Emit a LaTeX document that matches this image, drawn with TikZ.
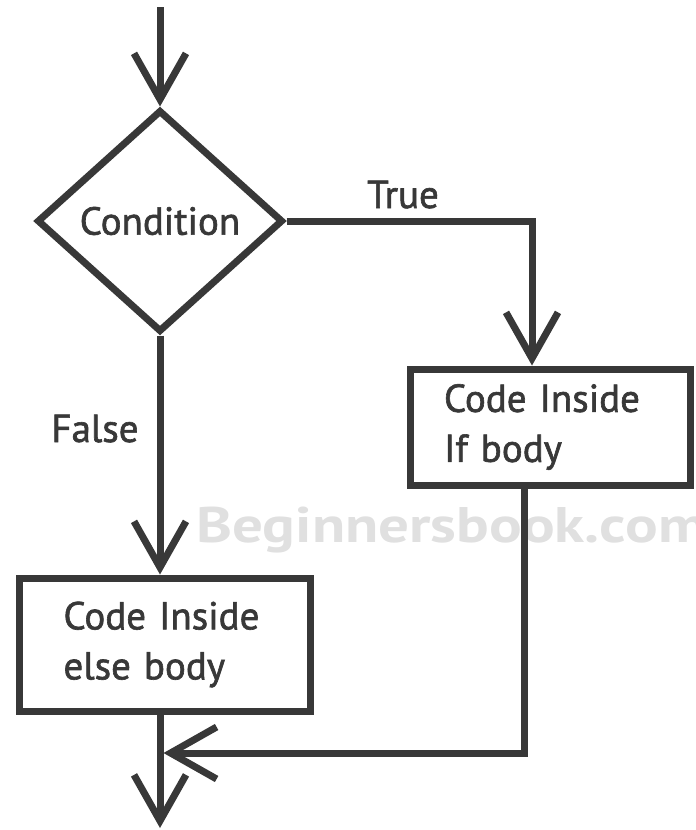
\documentclass[tikz,border=0pt]{standalone}
\usepackage{fontspec}
\setmainfont{PT Sans}
\newfontfamily\labelfont{PT Sans}[FakeBold=1.6]
\newfontfamily\markfont{PT Sans Bold}
\usetikzlibrary{shapes.geometric,arrows.meta}
\definecolor{ink}{HTML}{383838}
\definecolor{mark}{HTML}{E0E0E0}
\tikzset{
  flow/.style={draw=ink, line width=7pt, -{Straight Barb[length=46pt,width=52pt]}},
  decision/.style={diamond, draw=ink, line width=7pt, minimum width=246pt,
    minimum height=222pt, inner sep=0pt, aspect=1.1},
  block/.style={rectangle, draw=ink, line width=7pt, align=left, inner sep=0pt},
  txt/.style={text=ink, font=\labelfont\fontsize{39}{50}\selectfont},
}
\begin{document}
\begin{tikzpicture}[x=1pt,y=-1pt]
  \useasboundingbox (0,0) rectangle (696,830);
  \clip (0,0) rectangle (696,830);

  % watermark behind everything
  \node[anchor=base west, text=mark, inner sep=0pt,
    font=\markfont\fontsize{50}{56}\selectfont]
    (wm) at (196,542) {\scalebox{1.22}[1]{Beginnersbook.com}};

  % shapes
  \node[decision, txt] (cond) at (160,221) {Condition};
  \node[block, txt, text width=212pt, minimum width=280pt, minimum height=116pt]
    (ifb) at (550,427) {Code Inside\\If body};
  \node[block, txt, text width=202pt, minimum width=291pt, minimum height=133pt]
    (elb) at (164.5,644.5) {Code Inside\\else body};

  % free ends
  \coordinate (in) at (160,7);
  \coordinate (join) at (163.5,753);
  \coordinate (out) at (160,828);

  % connectors
  \draw[flow] (in) -- (cond.north);
  \draw[flow] (cond.east) -| ([xshift=-18pt]ifb.north);
  \draw[flow] (cond.south) -- (cond.south |- elb.north);
  \draw[flow] ([xshift=-26pt]ifb.south) |- (join);
  \draw[flow] (cond.south |- elb.south) -- (out);

  % branch labels
  \node[txt, anchor=base] (tl) at (403,208) {True};
  \node[txt, anchor=base] (fl) at (95,442) {False};
\end{tikzpicture}
\end{document}
